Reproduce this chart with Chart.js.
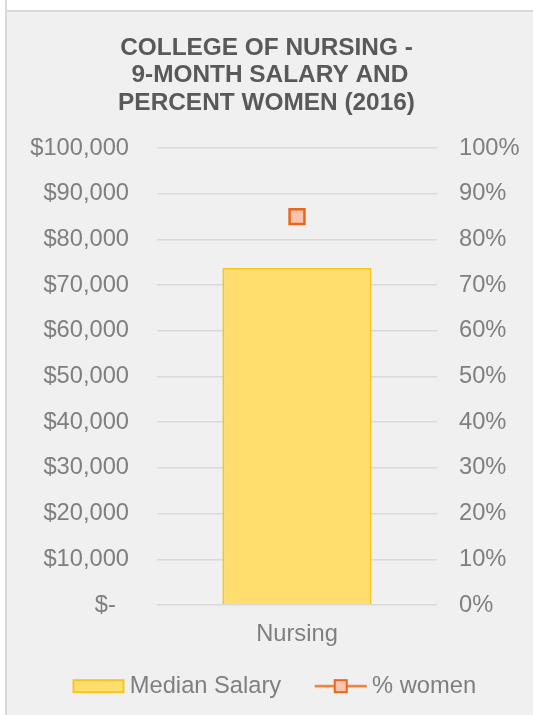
<!DOCTYPE html>
<html>
<head>
<meta charset="utf-8">
<script src="https://cdn.jsdelivr.net/npm/chart.js@4.4.1/dist/chart.umd.min.js"></script>
<style>
  html, body { margin: 0; padding: 0; background: #f0f0f0; overflow: hidden; }
  #topStrip { position: fixed; left: 0; top: 0; right: 0; height: 10px; background: #ffffff; border-bottom: 2px solid #d9d9d9; }
  #leftStrip { position: fixed; left: 0; top: 0; bottom: 0; width: 5px; background: #ffffff; border-right: 2px solid #d9d9d9; }
  #wrap { position: absolute; left: 0; top: 0; width: 533px; height: 715px; }
</style>
</head>
<body>
<div id="topStrip"></div>
<div id="leftStrip"></div>
<div id="wrap"><canvas id="c" width="533" height="715"></canvas></div>
<script>
const categories = ['Nursing'];
const medianSalary = [73800];
const percentWomen = [85];
const salaryTickLabels = ['$-  ', '$10,000', '$20,000', '$30,000', '$40,000', '$50,000',
                          '$60,000', '$70,000', '$80,000', '$90,000', '$100,000'];
const percentTickLabels = ['0%', '10%', '20%', '30%', '40%', '50%', '60%', '70%', '80%', '90%', '100%'];
const titleLines = ['COLLEGE OF NURSING -', ' 9-MONTH SALARY AND', 'PERCENT WOMEN (2016)'];

const FONT = "'Liberation Sans', Arial, sans-serif";
const TICK_SIZE = 23.7;
const TEXT_GRAY = '#7f7f7f';
const BAR_FILL = '#ffde6e';
const BAR_BORDER = '#f7c61e';
const LINE_COLOR = '#ed7d31';
const POINT_BORDER = '#e8671c';
const POINT_FILL = '#fcc4ae';

function makeLegendImage(kind) {
  const cv = document.createElement('canvas');
  cv.width = 76; cv.height = 18;
  const g = cv.getContext('2d');
  const x0 = 23, x1 = 75;
  if (kind === 'bar') {
    g.fillStyle = BAR_FILL;
    g.fillRect(x0, 2, x1 - x0, 14);
    g.strokeStyle = BAR_BORDER; g.lineWidth = 2;
    g.strokeRect(x0 + 1, 3, x1 - x0 - 2, 12);
  } else {
    g.strokeStyle = LINE_COLOR; g.lineWidth = 2.5;
    g.beginPath(); g.moveTo(x0, 9); g.lineTo(x1, 9); g.stroke();
    const cx = (x0 + x1) / 2;
    g.fillStyle = POINT_FILL;
    g.fillRect(cx - 7, 2, 14, 14);
    g.strokeStyle = POINT_BORDER; g.lineWidth = 2;
    g.strokeRect(cx - 6, 3, 12, 12);
  }
  return cv;
}
const legendImages = [makeLegendImage('bar'), makeLegendImage('line')];

new Chart(document.getElementById('c'), {
  data: {
    labels: categories,
    datasets: [
      {
        type: 'line',
        label: '% women',
        data: percentWomen,
        yAxisID: 'y2',
        borderColor: LINE_COLOR,
        borderWidth: 2.5,
        pointStyle: 'rect',
        pointRadius: 10.5,
        pointHoverRadius: 10.5,
        pointBackgroundColor: POINT_FILL,
        pointBorderColor: POINT_BORDER,
        pointBorderWidth: 2.5,
        order: 0
      },
      {
        type: 'bar',
        label: 'Median Salary',
        data: medianSalary,
        yAxisID: 'y',
        backgroundColor: BAR_FILL,
        borderColor: BAR_BORDER,
        borderWidth: 2,
        borderSkipped: 'bottom',
        barPercentage: 1,
        categoryPercentage: 0.533,
        order: 1
      }
    ]
  },
  options: {
    responsive: false,
    animation: false,
    layout: { padding: { left: 0, right: 0, top: 0, bottom: 7 } },
    plugins: {
      tooltip: { enabled: false },
      title: {
        display: true,
        text: titleLines,
        color: '#595959',
        font: { family: FONT, size: 24.4, weight: 'bold', lineHeight: 27.5 / 24.4 },
        padding: { top: 34.5, bottom: 31 }
      },
      legend: {
        position: 'bottom',
        labels: {
          usePointStyle: true,
          pointStyleWidth: 61,
          boxHeight: 18,
          padding: 18,
          color: TEXT_GRAY,
          font: { family: FONT, size: TICK_SIZE },
          generateLabels: (chart) => {
            const order = [1, 0];
            return order.map((di, k) => ({
              text: chart.data.datasets[di].label,
              pointStyle: legendImages[k],
              fillStyle: 'transparent',
              strokeStyle: 'transparent',
              lineWidth: 0,
              fontColor: TEXT_GRAY,
              datasetIndex: di,
              hidden: false
            }));
          }
        }
      }
    },
    scales: {
      x: {
        grid: { display: false, drawTicks: false },
        border: { display: false },
        ticks: { color: TEXT_GRAY, font: { family: FONT, size: TICK_SIZE }, padding: 15 },
        afterFit: (s) => { s.height = 51.25; }
      },
      y: {
        position: 'left',
        min: 0, max: 100000,
        grid: { color: '#d9d9d9', lineWidth: 1.5, drawTicks: false },
        border: { display: false },
        ticks: {
          stepSize: 10000,
          color: TEXT_GRAY,
          font: { family: FONT, size: TICK_SIZE },
          padding: 28,
          callback: (v, i) => salaryTickLabels[i]
        },
        afterFit: (s) => { s.width = 157; }
      },
      y2: {
        position: 'right',
        min: 0, max: 100,
        grid: { display: false, drawTicks: false },
        border: { display: false },
        ticks: {
          stepSize: 10,
          color: TEXT_GRAY,
          font: { family: FONT, size: TICK_SIZE },
          padding: 22,
          callback: (v, i) => percentTickLabels[i]
        },
        afterFit: (s) => { s.width = 96; }
      }
    }
  }
});
</script>
</body>
</html>
